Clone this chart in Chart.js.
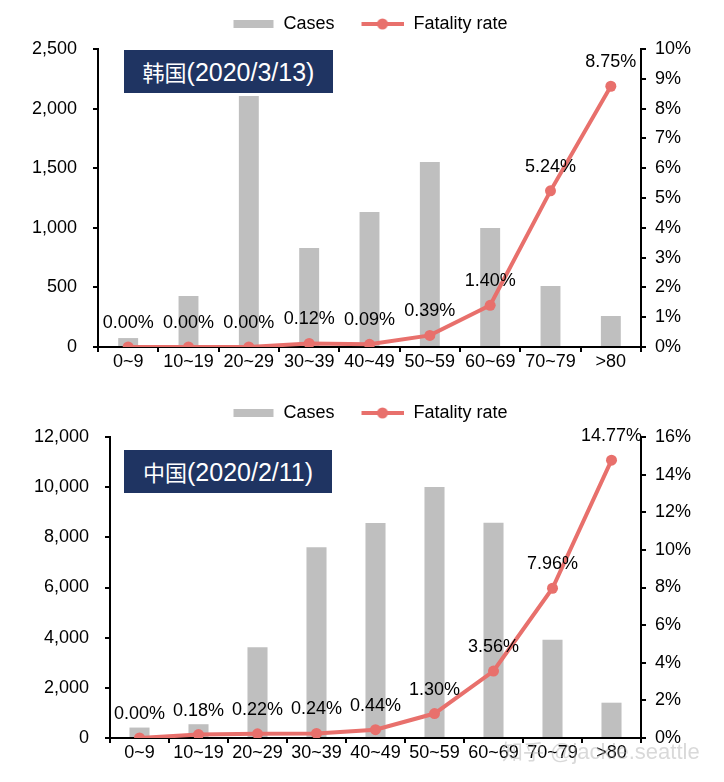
<!DOCTYPE html>
<html>
<head>
<meta charset="utf-8">
<script src="https://cdn.jsdelivr.net/npm/chart.js@4"></script>
<style>
  body { margin: 0; background: #fff; }
  #page { position: relative; width: 724px; height: 782px; overflow: hidden; font-family: "Liberation Sans", Arial, sans-serif; }
  .panel { position: absolute; left: 0; width: 724px; height: 391px; }
  .tag {
    position: absolute; left: 124px; height: 43px; line-height: 43px;
    background: #1f3462; color: #fff; text-align: center; font-size: 25px;
  }
  .tag .cn { font-family: "Noto Sans CJK SC", sans-serif; font-size: 22px; }
  #mark {
    position: absolute; left: 502px; top: 735px; font-size: 22px;
    color: rgba(170, 170, 170, 0.45);
  }
  #mark .cn { font-family: "Noto Sans CJK SC", sans-serif; font-size: 21px; }
</style>
</head>
<body>
<div id="page">
  <div class="panel" style="top:0"><canvas id="krChart" width="724" height="391"></canvas></div>
  <div class="panel" style="top:391px"><canvas id="cnChart" width="724" height="391"></canvas></div>
  <div class="tag" style="top:50px; width:209px;"><span class="cn">韩国</span>(2020/3/13)</div>
  <div class="tag" style="top:450px; width:208px;"><span class="cn">中国</span>(2020/2/11)</div>
  <div id="mark"><span class="cn">知乎</span> @jackie.seattle</div>
</div>
<script>
// age groups shared by both charts
const ageGroups = ['0~9', '10~19', '20~29', '30~39', '40~49', '50~59', '60~69', '70~79', '>80'];

// Korea, 2020/3/13
const krCases = [75, 428, 2106, 830, 1133, 1552, 998, 512, 260];
const krFatality = [0, 0, 0, 0.12, 0.09, 0.39, 1.40, 5.24, 8.75];

// China, 2020/2/11
const cnCases = [416, 549, 3619, 7600, 8571, 10008, 8583, 3918, 1408];
const cnFatality = [0, 0.18, 0.22, 0.24, 0.44, 1.30, 3.56, 7.96, 14.77];

const barColor = '#bfbfbf';
const lineColor = '#e8706c';
const fontFamily = '"Liberation Sans", Arial, sans-serif';

Chart.defaults.font.family = fontFamily;
Chart.defaults.font.size = 18;
Chart.defaults.color = '#000';

// legend swatches drawn into small canvases (transparent margin on the left)
function makeSwatch(kind) {
  const c = document.createElement('canvas');
  c.width = 58;
  c.height = 14;
  const g = c.getContext('2d');
  if (kind === 'bar') {
    g.fillStyle = barColor;
    g.fillRect(17, 3, 40, 8);
  } else {
    g.strokeStyle = lineColor;
    g.lineWidth = 4;
    g.beginPath();
    g.moveTo(15, 7);
    g.lineTo(58, 7);
    g.stroke();
    g.fillStyle = lineColor;
    g.beginPath();
    g.arc(36, 7, 5.5, 0, Math.PI * 2);
    g.fill();
  }
  return c;
}
const barSwatch = makeSwatch('bar');
const lineSwatch = makeSwatch('line');

// percentage labels above the fatality points
const pointLabels = {
  id: 'pointLabels',
  afterDatasetsDraw(chart) {
    const meta = chart.getDatasetMeta(0);
    const values = chart.data.datasets[0].data;
    const ctx = chart.ctx;
    ctx.save();
    ctx.font = '18px ' + fontFamily;
    ctx.fillStyle = '#000';
    ctx.textAlign = 'center';
    ctx.textBaseline = 'middle';
    meta.data.forEach((pt, i) => {
      ctx.fillText(values[i].toFixed(2) + '%', pt.x, pt.y - 24);
    });
    ctx.restore();
  }
};

// push the plot a few pixels further below the legend
const legendGap = {
  id: 'legendGap',
  beforeLayout(chart, args, opts) {
    const legend = chart.legend;
    if (!legend || legend._gapPatched) return;
    const fit = legend.fit;
    legend.fit = function () {
      fit.call(this);
      this.height += opts.extra || 0;
    };
    legend._gapPatched = true;
  }
};

function makeChart(id, cases, fatality, cfg) {
  const ctx = document.getElementById(id).getContext('2d');
  return new Chart(ctx, {
    type: 'bar',
    data: {
      labels: ageGroups,
      datasets: [
        {
          type: 'line',
          label: 'Fatality rate',
          data: fatality,
          yAxisID: 'y1',
          borderColor: lineColor,
          backgroundColor: lineColor,
          borderWidth: 4,
          pointRadius: 5.5,
          pointBorderWidth: 0,
          pointBackgroundColor: lineColor,
          tension: 0
        },
        {
          label: 'Cases',
          data: cases,
          yAxisID: 'y',
          backgroundColor: barColor,
          categoryPercentage: 1,
          barPercentage: cfg.barPct
        }
      ]
    },
    options: {
      responsive: false,
      animation: false,
      layout: { padding: { top: cfg.padTop, left: 0, right: 0, bottom: 0 } },
      plugins: {
        legend: {
          position: 'top',
          labels: {
            usePointStyle: true,
            pointStyleWidth: 58,
            padding: 12,
            font: { size: 18 },
            generateLabels: () => [
              { text: 'Cases', pointStyle: barSwatch, fillStyle: barColor, strokeStyle: barColor, lineWidth: 0, datasetIndex: 1 },
              { text: 'Fatality rate', pointStyle: lineSwatch, fillStyle: lineColor, strokeStyle: lineColor, lineWidth: 0, datasetIndex: 0 }
            ]
          }
        },
        tooltip: { enabled: false },
        legendGap: { extra: cfg.legendExtra }
      },
      scales: {
        x: {
          grid: { offset: true, drawOnChartArea: false, drawTicks: true, tickLength: 5, color: '#000', lineWidth: 2 },
          border: { display: true, color: '#000', width: 2 },
          ticks: { padding: -1, font: { size: 18 }, maxRotation: 0, autoSkip: false },
          afterFit: s => { s.height = 44; }
        },
        y: {
          position: 'left',
          min: 0,
          max: cfg.casesMax,
          grid: { drawOnChartArea: false, drawTicks: true, tickLength: 5, color: '#000', lineWidth: 2 },
          border: { display: true, color: '#000', width: 2 },
          ticks: {
            stepSize: cfg.casesStep,
            padding: 16,
            font: { size: 18 },
            callback: v => v.toLocaleString('en-US')
          },
          afterFit: s => { s.width = cfg.leftWidth; }
        },
        y1: {
          position: 'right',
          min: 0,
          max: cfg.rateMax,
          grid: { drawOnChartArea: false, drawTicks: true, tickLength: 5, color: '#000', lineWidth: 2 },
          border: { display: true, color: '#000', width: 2 },
          ticks: {
            stepSize: cfg.rateStep,
            padding: 9,
            font: { size: 18 },
            callback: v => v + '%'
          },
          afterFit: s => { s.width = 83; }
        }
      }
    },
    plugins: [pointLabels, legendGap]
  });
}

makeChart('krChart', krCases, krFatality, {
  barPct: 0.33, padTop: 3, legendExtra: 6,
  casesMax: 2500, casesStep: 500, rateMax: 10, rateStep: 1, leftWidth: 98
});

makeChart('cnChart', cnCases, cnFatality, {
  barPct: 0.34, padTop: 1, legendExtra: 5,
  casesMax: 12000, casesStep: 2000, rateMax: 16, rateStep: 2, leftWidth: 110
});
</script>
</body>
</html>
